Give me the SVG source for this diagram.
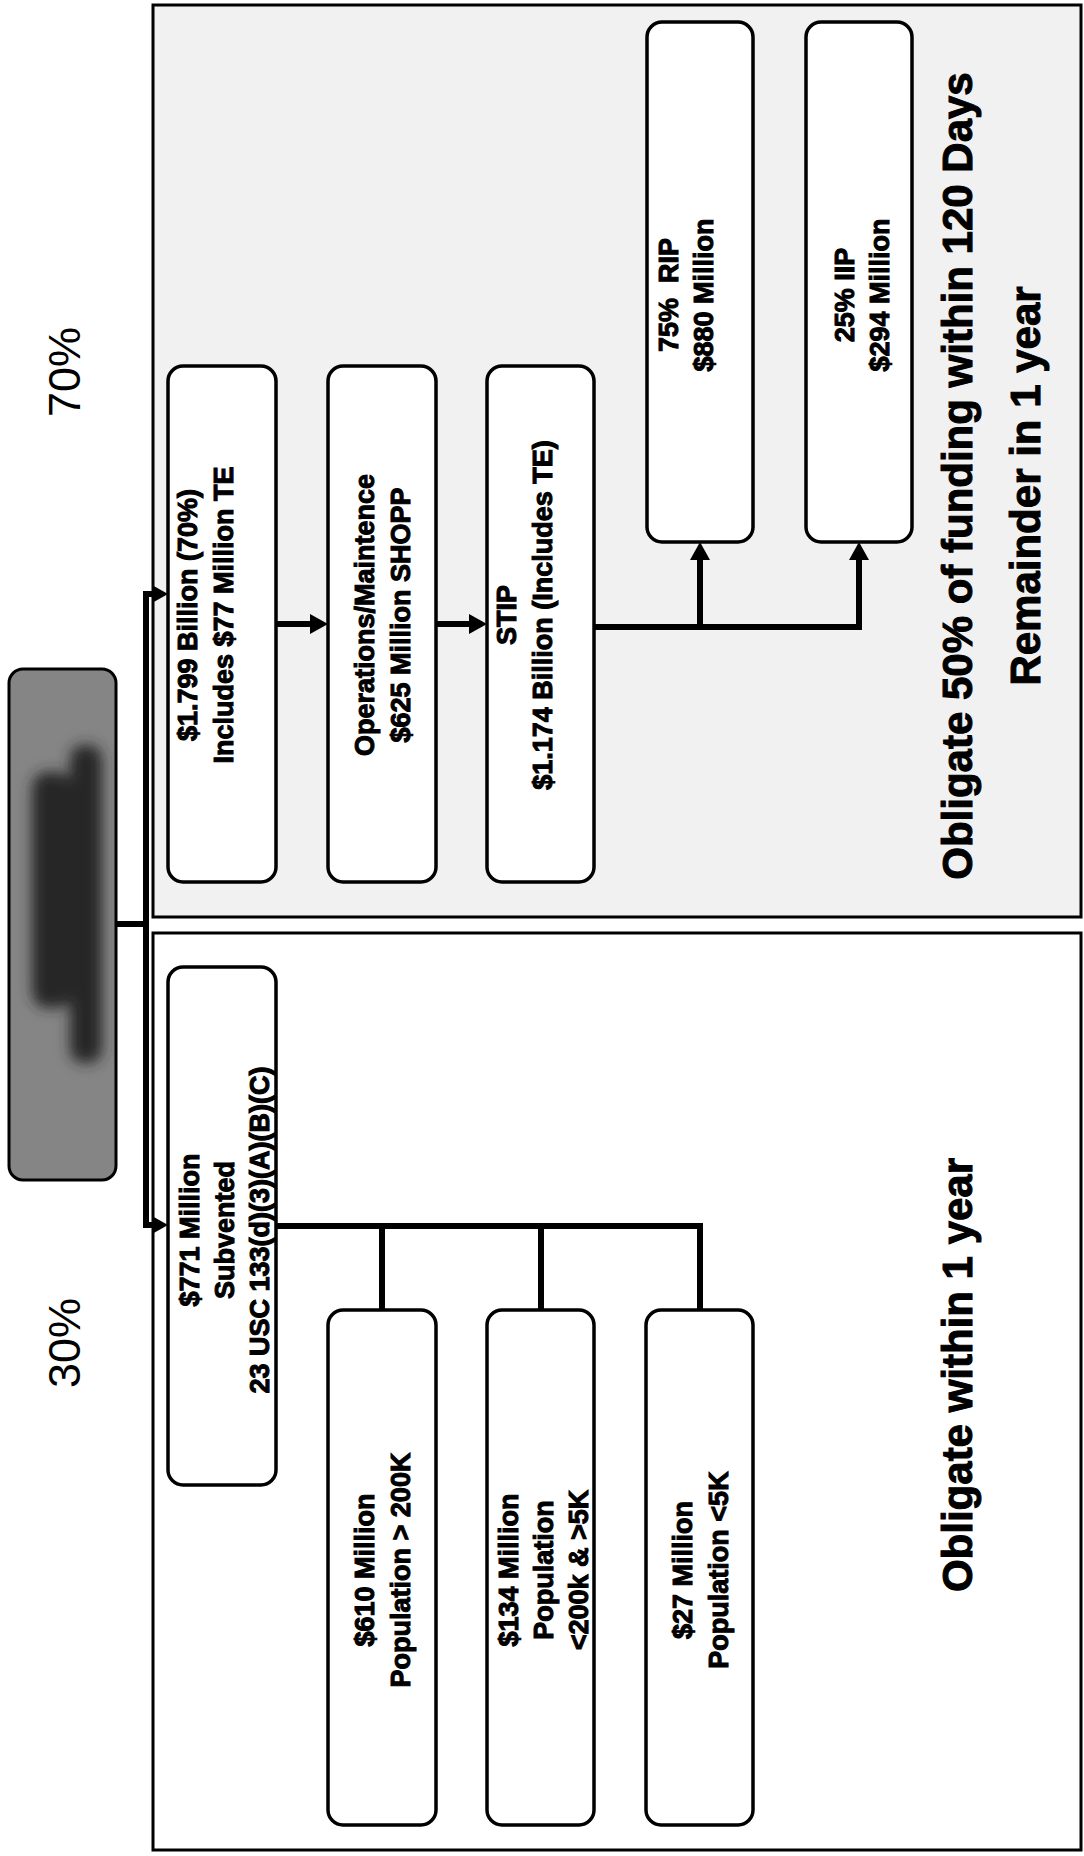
<svg xmlns="http://www.w3.org/2000/svg" width="1084" height="1856" viewBox="0 0 1084 1856">
<style>
.panel{fill:#fff;stroke:#000;stroke-width:3}
.box{fill:#fff;stroke:#000;stroke-width:3.5}
.t{font-family:"Liberation Sans",Arial,Helvetica,sans-serif;font-weight:bold;font-size:27px;text-anchor:middle;fill:#000;stroke:#000;stroke-width:1}
.big{font-family:"Liberation Sans",Arial,Helvetica,sans-serif;font-weight:bold;font-size:42px;text-anchor:middle;fill:#000;stroke:#000;stroke-width:1}
.pct{font-family:"Liberation Sans",Arial,Helvetica,sans-serif;font-size:45px;text-anchor:middle;fill:#000}
.ln{fill:none;stroke:#000;stroke-width:6;stroke-linejoin:miter}
.ah{fill:#000}
</style>
<defs>
<filter id="blur" x="-50%" y="-50%" width="200%" height="200%"><feGaussianBlur stdDeviation="7"/></filter>
<clipPath id="nodeclip"><rect x="9" y="669" width="107" height="511" rx="14"/></clipPath>
</defs>
<rect width="1084" height="1856" fill="#fff"/>
<g id="panels">
<rect id="panel-70" class="panel" x="153" y="5" width="928" height="912" style="fill:#f1f1f1"/>
<rect id="panel-30" class="panel" x="153" y="933" width="928" height="917"/>
</g>
<g id="labels">
<text class="pct" transform="translate(0 372) rotate(-90)" x="0" y="80">70%</text>
<text class="pct" transform="translate(0 1343) rotate(-90)" x="0" y="80">30%</text>
<text class="big" transform="translate(0 476) rotate(-90)" x="0" y="972">Obligate 50% of funding within 120 Days</text>
<text class="big" transform="translate(0 486) rotate(-90)" x="0" y="1040">Remainder in 1 year</text>
<text class="big" transform="translate(0 1375) rotate(-90)" x="0" y="972">Obligate within 1 year</text>
</g>
<g id="node-root">
<rect x="9" y="669" width="107" height="511" rx="14" fill="#858585" stroke="#000" stroke-width="3"/>
<g clip-path="url(#nodeclip)" filter="url(#blur)">
<rect x="32" y="772" width="40" height="236" rx="16" fill="#262626"/>
<rect x="70" y="745" width="32" height="318" rx="14" fill="#262626"/>
</g>
</g>
<g id="connectors">
<path class="ln" d="M116 924 H146"/>
<path class="ln" d="M146 591 V1228"/>
<path class="ln" d="M146 594 H154"/>
<polygon class="ah" points="168,594 152,585 152,603"/>
<path class="ln" d="M146 1225 H154"/>
<polygon class="ah" points="168,1225 152,1216 152,1234"/>
<path class="ln" d="M276 624 H312"/>
<polygon class="ah" points="328,624 310,614 310,634"/>
<path class="ln" d="M436 624 H471"/>
<polygon class="ah" points="487,624 469,614 469,634"/>
<path class="ln" d="M593 627 H859 V558"/>
<path class="ln" d="M700 627 V558"/>
<polygon class="ah" points="700,542 690,560 710,560"/>
<polygon class="ah" points="859,542 849,560 869,560"/>
<path class="ln" d="M277 1226 H700 V1310"/>
<path class="ln" d="M382 1226 V1310"/>
<path class="ln" d="M541 1226 V1310"/>
</g>
<g id="node-a">
<rect class="box" x="168" y="366" width="108" height="516" rx="15"/>
<text class="t" transform="translate(0 615) rotate(-90)"><tspan x="0" y="197">$1.799 Billion (70%)</tspan><tspan x="0" y="233">Includes $77 Million TE</tspan></text>
</g>
<g id="node-b">
<rect class="box" x="328" y="366" width="108" height="516" rx="15"/>
<text class="t" transform="translate(0 615) rotate(-90)"><tspan x="0" y="374">Operations/Maintence</tspan><tspan x="0" y="410">$625 Million SHOPP</tspan></text>
</g>
<g id="node-c">
<rect class="box" x="487" y="366" width="107" height="516" rx="15"/>
<text class="t" transform="translate(0 615) rotate(-90)"><tspan x="0" y="516">STIP</tspan><tspan x="0" y="552">$1.174 Billion (Includes TE)</tspan></text>
</g>
<g id="node-d">
<rect class="box" x="647" y="22" width="106" height="520" rx="15"/>
<text class="t" transform="translate(0 295) rotate(-90)"><tspan x="0" y="678">75%&#160; RIP</tspan><tspan x="0" y="713">$880 Million</tspan></text>
</g>
<g id="node-e">
<rect class="box" x="806" y="22" width="106" height="520" rx="15"/>
<text class="t" transform="translate(0 295) rotate(-90)"><tspan x="0" y="854">25% IIP</tspan><tspan x="0" y="889">$294 Million</tspan></text>
</g>
<g id="node-f">
<rect class="box" x="168" y="967" width="108" height="518" rx="15"/>
<text class="t" transform="translate(0 1230) rotate(-90)"><tspan x="0" y="199">$771 Million</tspan><tspan x="0" y="234">Subvented</tspan><tspan x="0" y="269">23 USC 133(d)(3)(A)(B)(C)</tspan></text>
</g>
<g id="node-g">
<rect class="box" x="328" y="1310" width="108" height="515" rx="15"/>
<text class="t" transform="translate(0 1570) rotate(-90)"><tspan x="0" y="374">$610 Million</tspan><tspan x="0" y="410">Population &gt; 200K</tspan></text>
</g>
<g id="node-h">
<rect class="box" x="487" y="1310" width="107" height="515" rx="15"/>
<text class="t" transform="translate(0 1570) rotate(-90)"><tspan x="0" y="518">$134 Million</tspan><tspan x="0" y="553">Population</tspan><tspan x="0" y="588">&lt;200k &amp; &gt;5K</tspan></text>
</g>
<g id="node-i">
<rect class="box" x="646" y="1310" width="107" height="515" rx="15"/>
<text class="t" transform="translate(0 1570) rotate(-90)"><tspan x="0" y="692">$27 Million</tspan><tspan x="0" y="728">Population &lt;5K</tspan></text>
</g>
</svg>
